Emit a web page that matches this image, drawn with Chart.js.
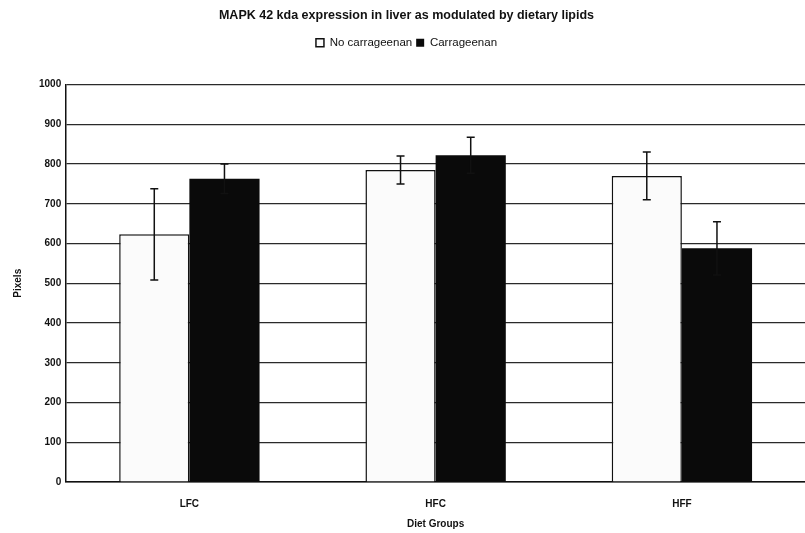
<!DOCTYPE html>
<html>
<head>
<meta charset="utf-8">
<script src="https://cdn.jsdelivr.net/npm/chart.js@4"></script>
<style>
  html, body { margin: 0; padding: 0; background: #fff; }
  canvas { display: block; }
</style>
</head>
<body>
<canvas id="mapkChart" width="805" height="533"></canvas>
<script>
'use strict';

var dietGroups = ['LFC', 'HFC', 'HFF'];
var noCarrageenan = [623, 785, 770];
var noCarrageenanErr = [115, 35, 60];
var carrageenan = [763, 822, 588];
var carrageenanErr = [37, 45, 67];
var yTicks = [0, 100, 200, 300, 400, 500, 600, 700, 800, 900, 1000];

var errors = [noCarrageenanErr, carrageenanErr];

// draws the +/- error bars on top of each bar
var errorBars = {
   id: 'errorBars',
   afterDatasetsDraw: function(chart) {
      var ctx = chart.ctx;
      var yScale = chart.scales.y;
      ctx.save();
      ctx.strokeStyle = '#111';
      ctx.lineWidth = 1.5;
      chart.data.datasets.forEach(function(ds, d) {
         var meta = chart.getDatasetMeta(d);
         meta.data.forEach(function(bar, i) {
            var v = ds.data[i];
            var e = errors[d][i];
            var top = yScale.getPixelForValue(v + e);
            var bottom = yScale.getPixelForValue(v - e);
            ctx.beginPath();
            ctx.moveTo(bar.x, top);
            ctx.lineTo(bar.x, bottom);
            ctx.moveTo(bar.x - 4, top);
            ctx.lineTo(bar.x + 4, top);
            ctx.moveTo(bar.x - 4, bottom);
            ctx.lineTo(bar.x + 4, bottom);
            ctx.stroke();
         });
      });
      ctx.restore();
   }
};

// extra room under the legend, like the original
var legendGap = {
   id: 'legendGap',
   beforeInit: function(chart) {
      var fit = chart.legend.fit;
      chart.legend.fit = function() {
         fit.bind(chart.legend)();
         this.height += 26;
      };
   }
};

var ctx = document.getElementById('mapkChart');
var mapkChart = new Chart(ctx, {
   type: 'bar',
   data: {
      labels: dietGroups,
      datasets: [{
         label: 'No carrageenan',
         data: noCarrageenan,
         backgroundColor: '#fbfbfb',
         borderColor: '#111',
         borderWidth: 1.5,
         borderSkipped: 'bottom'
      }, {
         label: 'Carrageenan',
         data: carrageenan,
         backgroundColor: '#0a0a0a',
         borderColor: '#0a0a0a',
         borderWidth: 0
      }]
   },
   options: {
      responsive: false,
      animation: false,
      datasets: {
         bar: { categoryPercentage: 0.57, barPercentage: 1 }
      },
      layout: { padding: { left: 8, right: 0, top: 0, bottom: 0 } },
      plugins: {
         title: {
            display: true,
            text: 'MAPK 42 kda expression in liver as modulated by dietary lipids',
            color: '#111',
            font: { family: 'Liberation Sans', size: 12.5, weight: 'bold' },
            padding: { top: 8, bottom: 10 }
         },
         legend: {
            position: 'top',
            labels: {
               color: '#111',
               font: { family: 'Liberation Sans', size: 11.5 },
               boxWidth: 8,
               boxHeight: 8,
               padding: 4
            }
         },
         tooltip: { enabled: false }
      },
      scales: {
         x: {
            grid: { display: false },
            border: { color: '#111', width: 1.5 },
            ticks: {
               color: '#111',
               font: { family: 'Liberation Sans', size: 10, weight: 'bold' },
               padding: 8
            },
            title: {
               display: true,
               text: 'Diet Groups',
               color: '#111',
               font: { family: 'Liberation Sans', size: 10, weight: 'bold' },
               padding: { top: 0, bottom: 3 }
            }
         },
         y: {
            min: 0,
            max: 1000,
            afterBuildTicks: function(axis) {
               axis.ticks = yTicks.map(function(v) { return { value: v }; });
            },
            grid: { color: '#2a2a2a', lineWidth: 1.2, drawTicks: false },
            border: { color: '#111', width: 1.5 },
            ticks: {
               color: '#111',
               font: { family: 'Liberation Sans', size: 10, weight: 'bold' },
               padding: 5,
               callback: function(v) { return String(v); }
            },
            title: {
               display: true,
               text: 'Pixels',
               color: '#111',
               font: { family: 'Liberation Sans', size: 10, weight: 'bold' },
               padding: { bottom: 10 }
            }
         }
      }
   },
   plugins: [errorBars, legendGap]
});
</script>
</body>
</html>
